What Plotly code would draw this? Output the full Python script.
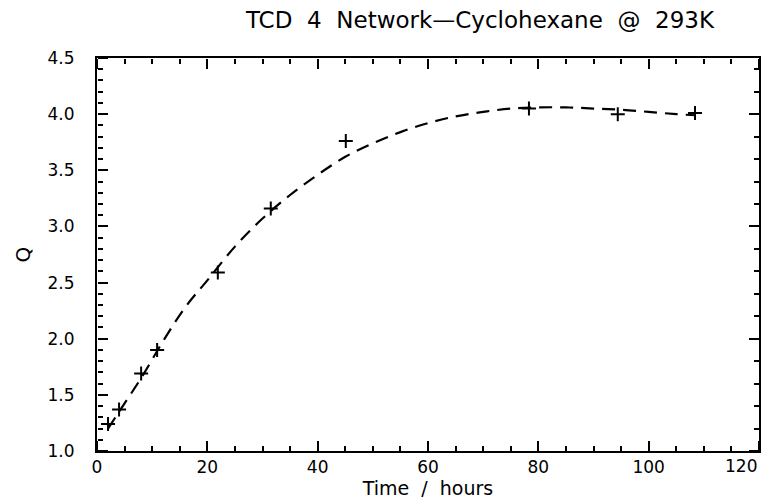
import plotly.graph_objects as go

# measured data points (Time in hours, Q)
time_pts = [2.0, 4.0, 8.0, 10.9, 21.9, 31.5, 45.1, 78.3, 94.4, 108.4]
q_pts = [1.24, 1.37, 1.69, 1.90, 2.59, 3.16, 3.76, 4.05, 4.00, 4.01]

# fitted (dashed) curve
fit_t = [2, 4, 8, 12, 16, 20, 25, 30, 35, 40, 45, 50, 55, 60, 65, 70, 75, 80, 85, 90, 95, 100, 105, 108.5]
fit_q = [1.20, 1.35, 1.65, 1.98, 2.28, 2.52, 2.82, 3.07, 3.28, 3.46, 3.62, 3.74, 3.84, 3.92, 3.98, 4.02, 4.05, 4.06, 4.06, 4.05, 4.04, 4.02, 4.00, 3.99]

x_ticks = [0, 20, 40, 60, 80, 100, 120]
y_ticks = [1.0, 1.5, 2.0, 2.5, 3.0, 3.5, 4.0, 4.5]

FONT = "DejaVu Sans"
X_RANGE = [0, 120]
Y_RANGE = [1.0, 4.5]

fig = go.Figure()
fig.add_trace(go.Scatter(x=fit_t, y=fit_q, mode="lines", line=dict(color="black", width=2.2, dash="13px,8px"),
                         line_shape="spline", showlegend=False, hoverinfo="skip"))
fig.add_trace(go.Scatter(x=time_pts, y=q_pts, mode="markers",
                         marker=dict(symbol="cross-thin", size=10, line=dict(color="black", width=2)),
                         showlegend=False))
# empty traces so the tick-only frame axes are created
for xa, ya in [("x2", "y"), ("x3", "y"), ("x", "y2"), ("x", "y3")]:
    fig.add_trace(go.Scatter(x=[None], y=[None], xaxis=xa, yaxis=ya, showlegend=False, hoverinfo="skip"))

xt_text = [str(v) for v in x_ticks]
xt_text[-1] = ""
fig.add_annotation(x=x_ticks[-1], y=0, xref="x", yref="paper", text=str(x_ticks[-1]),
                   xanchor="right", yanchor="top", yshift=-3, showarrow=False,
                   font=dict(family=FONT, size=17, color="black"))

major = dict(ticks="outside", ticklen=10, tickwidth=2, tickcolor="black")
frame = dict(showline=False, showgrid=False, zeroline=False, showticklabels=False)

fig.update_layout(
    template="none",
    width=767, height=502,
    margin=dict(l=97, r=8, t=58, b=51),
    paper_bgcolor="white", plot_bgcolor="white",
    font=dict(family=FONT, color="black", size=17),
    title=dict(text="TCD  4  Network\u2014Cyclohexane  @  293K", x=480 / 767, xanchor="center", y=1 - 20 / 502,
               yanchor="middle", font=dict(size=23, family=FONT)),
    # labelled axes (frame lines + labels)
    xaxis=dict(range=X_RANGE, tickvals=x_ticks, ticktext=xt_text, ticks="",
               showline=True, linecolor="black", linewidth=2, mirror=True,
               showgrid=False, zeroline=False,
               title=dict(text="Time  /  hours", font=dict(size=19), standoff=3)),
    yaxis=dict(range=Y_RANGE, tickvals=y_ticks, ticktext=["%.1f\u2002\u2002" % v for v in y_ticks], ticks="",
               showline=True, linecolor="black", linewidth=2, mirror=True,
               showgrid=False, zeroline=False,
               title=dict(text="Q", font=dict(size=20), standoff=12)),
    # inward ticks along the bottom edge
    xaxis2=dict(range=X_RANGE, overlaying="x", side="top", anchor="free", position=0,
                tickvals=x_ticks, **major, **frame,
                minor=dict(dtick=5, tick0=0, ticks="outside", ticklen=5, tickwidth=1.5, tickcolor="black")),
    # inward ticks along the top edge
    xaxis3=dict(range=X_RANGE, overlaying="x", side="bottom", anchor="free", position=1,
                tickvals=x_ticks, **major, **frame,
                minor=dict(dtick=5, tick0=0, ticks="outside", ticklen=5, tickwidth=1.5, tickcolor="black")),
    # inward ticks along the left edge
    yaxis2=dict(range=Y_RANGE, overlaying="y", side="right", anchor="free", position=0,
                tickvals=y_ticks, **major, **frame,
                minor=dict(dtick=0.1, tick0=1.0, ticks="outside", ticklen=5, tickwidth=1.5, tickcolor="black")),
    # inward ticks along the right edge (coarser pattern)
    yaxis3=dict(range=Y_RANGE, overlaying="y", side="left", anchor="free", position=1,
                dtick=1.0, tick0=1.0, **major, **frame,
                minor=dict(dtick=0.2, tick0=1.0, ticks="outside", ticklen=5, tickwidth=1.5, tickcolor="black")),
)

fig.write_html("out.html")
